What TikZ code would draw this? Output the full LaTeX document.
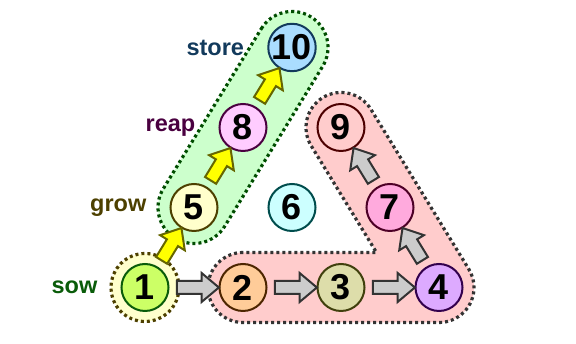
\documentclass[tikz,border=0pt]{standalone}
\usepackage{fontspec}
\setmainfont{Liberation Sans}
\usetikzlibrary{shapes.arrows,calc}
\definecolor{cSow}{HTML}{0A5C0A}
\definecolor{cGrow}{HTML}{4D4000}
\definecolor{cReap}{HTML}{4A0040}
\definecolor{cStore}{HTML}{123A5C}
\definecolor{fOne}{HTML}{CCFF66}
\definecolor{fTwo}{HTML}{FFCC99}\definecolor{dTwo}{HTML}{4D2600}
\definecolor{fThree}{HTML}{DDDDAA}\definecolor{dThree}{HTML}{40400D}
\definecolor{fFour}{HTML}{DDAAFF}\definecolor{dFour}{HTML}{33004D}
\definecolor{fFive}{HTML}{FFFFCC}
\definecolor{fSix}{HTML}{CCFFFF}\definecolor{dSix}{HTML}{004D4D}
\definecolor{fSeven}{HTML}{FFAADD}\definecolor{dSeven}{HTML}{4D0026}
\definecolor{fEight}{HTML}{FFCCFF}
\definecolor{fNine}{HTML}{FFCCCC}\definecolor{dNine}{HTML}{4D0000}
\definecolor{fTen}{HTML}{AADDFF}
\definecolor{regGreen}{HTML}{CCFFCC}\definecolor{regGreenD}{HTML}{004D00}
\definecolor{regPink}{HTML}{FFCCCC}\definecolor{regPinkD}{HTML}{333333}
\definecolor{regYellow}{HTML}{FFFFCC}\definecolor{regYellowD}{HTML}{4D4000}
\definecolor{arrGray}{HTML}{CCCCCC}\definecolor{arrGrayD}{HTML}{333333}
\definecolor{arrYel}{HTML}{FFFF00}\definecolor{arrYelD}{HTML}{666600}
\begin{document}
\begin{tikzpicture}[x=1pt,y=1pt,
  num/.style={circle,minimum size=47pt,inner sep=0pt,line width=2pt,
    font=\fontsize{36}{36}\selectfont\bfseries},
  lab/.style={font=\fontsize{23.5}{24}\selectfont\bfseries},
  region/.style={line width=3.2pt,dash pattern=on 3pt off 3pt},
  blockarrow/.style={single arrow,line width=2pt,inner xsep=0pt,inner ysep=5.5pt,
    single arrow head extend=8pt,single arrow tip angle=80,
    single arrow head indent=0pt,minimum width=0pt},
  grayarrow/.style={blockarrow,fill=arrGray,draw=arrGrayD},
  yelarrow/.style={blockarrow,fill=arrYel,draw=arrYelD}]
\useasboundingbox (0,0) rectangle (576,344);
% positions
\coordinate (c1) at (145,56.5);
\coordinate (c2) at (243,56.5);
\coordinate (c3) at (341,56.5);
\coordinate (c4) at (439,56.5);
\coordinate (c5) at (194,136.5);
\coordinate (c6) at (292,136.5);
\coordinate (c7) at (390,136.5);
\coordinate (c8) at (243,216.5);
\coordinate (c9) at (341,216.5);
\coordinate (c10) at (292,296.5);
\coordinate (cinner) at (376.5,91.5);
% regions
\path[region,fill=regGreen,draw=regGreenD]
  ([shift={(148.52:36pt)}]c10) arc[start angle=148.52,end angle=-31.48,radius=36pt]
  -- ([shift={(-31.48:36pt)}]c5) arc[start angle=-31.48,end angle=-211.48,radius=36pt]
  -- cycle;
\path[region,fill=regPink,draw=regPinkD]
  ([shift={(90:35pt)}]c2) arc[start angle=90,end angle=270,radius=35pt]
  -- ([shift={(270:35pt)}]c4) arc[start angle=270,end angle=391.48,radius=35pt]
  -- ([shift={(31.48:35pt)}]c9) arc[start angle=31.48,end angle=211.48,radius=35pt]
  -- (cinner) -- cycle;
\path[region,fill=regYellow,draw=regYellowD] (c1) circle[radius=34pt];
% nodes
\node[num,fill=fOne,draw=cSow,label={[lab,text=cSow,label distance=23pt,inner sep=0pt]left:sow}] (n1) at (c1) {1};
\node[num,fill=fTwo,draw=dTwo] (n2) at (c2) {2};
\node[num,fill=fThree,draw=dThree] (n3) at (c3) {3};
\node[num,fill=fFour,draw=dFour] (n4) at (c4) {4};
\node[num,fill=fFive,draw=cGrow,label={[lab,text=cGrow,label distance=23pt,inner sep=0pt]left:grow}] (n5) at (c5) {5};
\node[num,fill=fSix,draw=dSix] (n6) at (c6) {6};
\node[num,fill=fSeven,draw=dSeven] (n7) at (c7) {7};
\node[num,fill=fEight,draw=cReap,label={[lab,text=cReap,label distance=23pt,inner sep=0pt]left:reap}] (n8) at (c8) {8};
\node[num,fill=fNine,draw=dNine] (n9) at (c9) {9};
\node[num,fill=fTen,draw=cStore,label={[lab,text=cStore,label distance=23pt,inner sep=0pt]left:store}] (n10) at (c10) {10};
% block arrows
\node[grayarrow,minimum height=42pt] (a12) at ($(n1)!0.5!(n2)$) {};
\node[grayarrow,minimum height=42pt] (a23) at ($(n2)!0.5!(n3)$) {};
\node[grayarrow,minimum height=42pt] (a34) at ($(n3)!0.5!(n4)$) {};
\node[grayarrow,minimum height=38pt,rotate=121.48] (a47) at ($(n4)!0.5!(n7)$) {};
\node[grayarrow,minimum height=38pt,rotate=121.48] (a79) at ($(n7)!0.5!(n9)$) {};
\node[yelarrow,minimum height=38pt,rotate=58.52] (a15) at ($(n1)!0.5!(n5)$) {};
\node[yelarrow,minimum height=38pt,rotate=58.52] (a58) at ($(n5)!0.5!(n8)$) {};
\node[yelarrow,minimum height=38pt,rotate=58.52] (a810) at ($(n8)!0.5!(n10)$) {};
\end{tikzpicture}
\end{document}
